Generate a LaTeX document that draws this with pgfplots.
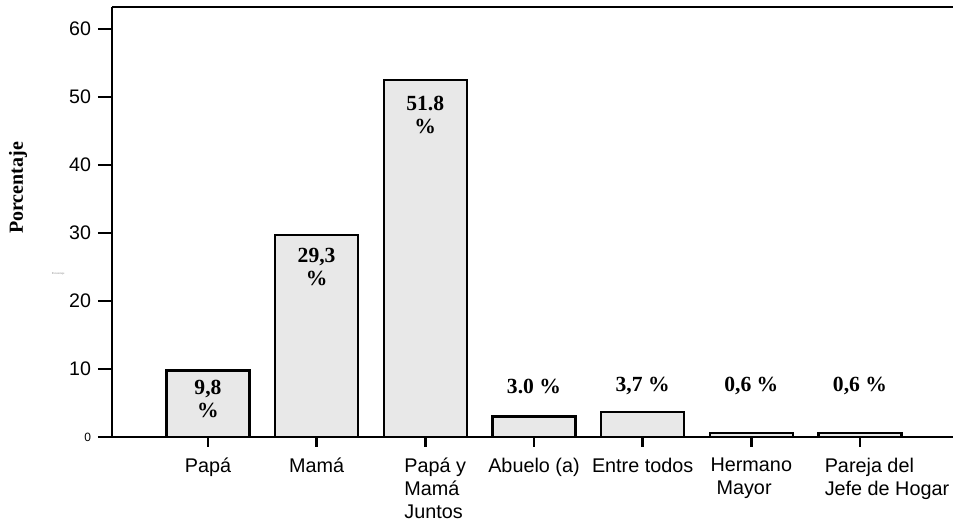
\documentclass[border=0pt]{standalone}
\usepackage{fontspec}
\setmainfont{Liberation Serif}
\newfontfamily\arial{Liberation Sans}
\usepackage{pgfplots}
\pgfplotsset{compat=1.18}
\definecolor{barfill}{HTML}{E8E8E8}
\begin{document}
\begin{tikzpicture}
\begin{axis}[
  scale only axis, width=420.5pt, height=215pt,
  xmin=-0.883, xmax=6.856, ymin=0, ymax=63.24,
  axis lines=left, axis line style={line width=1.3pt, -},
  clip=false,
  ybar, bar width=41.5pt,
  ytick={0,10,...,60},
  yticklabels={{\fontsize{6}{6}\selectfont 0},10,20,30,40,50,60},
  xtick={0,...,6},
  xticklabels={Papá, Mamá, {\hspace*{10pt}Papá y\\\hspace*{10pt}Mamá\\\hspace*{10pt}Juntos}, Abuelo (a), Entre todos, {Hermano\\\hspace*{3pt}Mayor}, {\hspace*{27pt}Pareja del\\\hspace*{27pt}Jefe de Hogar}},
  x tick label style={font=\arial\fontsize{9.9}{11.5}\selectfont, align=left, anchor=north},
  y tick label style={font=\arial\fontsize{9.8}{10}\selectfont},
  tick align=outside, major tick length=7pt, tick style={line width=1.3pt, black},
  xtick style={/pgfplots/major tick length=5pt},
]
\addplot[draw=black, line width=1.2pt, fill=barfill] coordinates {(0,9.8) (1,29.7) (2,52.5) (3,3.0) (4,3.7) (5,0.6) (6,0.6)};
\draw[line width=1.2pt] (rel axis cs:0,1) -- (rel axis cs:1,1);
\tikzset{vl/.style={font=\bfseries\fontsize{10.8}{11.5}\selectfont, align=center}}
\node[vl] at (axis cs:0,5.6) {9,8\\\%};
\node[vl] at (axis cs:1,25.0) {29,3\\\%};
\node[vl] at (axis cs:2,47.4) {51.8\\\%};
\node[vl] at (axis cs:3,7.5) {3.0 \%};
\node[vl] at (axis cs:4,7.5) {3,7 \%};
\node[vl] at (axis cs:5,7.5) {0,6 \%};
\node[vl] at (axis cs:6,7.5) {0,6 \%};
\node[font=\bfseries\fontsize{10}{12}\selectfont, rotate=90] at (axis description cs:-0.1118,0.579) {Porcentaje};
\node[font=\fontsize{1.5}{2}\selectfont, text=gray] at (axis description cs:-0.064,0.379) {Porcentaje};
\end{axis}
\pgfresetboundingbox
\path[use as bounding box] (-56pt,-42.5pt) rectangle (420.5pt,218.5pt);
\end{tikzpicture}
\end{document}
